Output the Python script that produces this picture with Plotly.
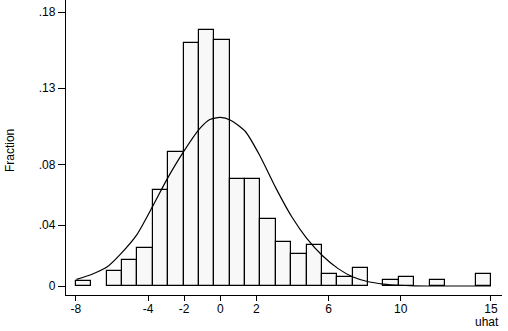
import plotly.graph_objects as go

# Histogram of uhat (fraction per bin), bin width ~0.852
bin_centers = [-7.574, -5.870, -5.019, -4.167, -3.315, -2.463, -1.611, -0.759,
               0.093, 0.944, 1.796, 2.648, 3.500, 4.352, 5.204, 6.056, 6.907,
               7.759, 9.463, 10.315, 12.019, 14.574]
fractions = [0.0036, 0.0096, 0.0171, 0.0248, 0.0629, 0.0878, 0.1600, 0.1680,
             0.1620, 0.0705, 0.0705, 0.0438, 0.0287, 0.0208, 0.0267, 0.0079,
             0.0057, 0.0116, 0.0037, 0.0057, 0.0037, 0.0079]
bin_width = 0.852

# Normal density overlay
curve_x = [-7.97, -7.14, -6.28, -5.57, -4.61, -3.72, -2.98, -2.06, -1.13,
           -0.58, 0.0, 0.57, 1.40, 2.20, 3.09, 3.96, 4.79, 5.68, 6.51, 7.32,
           8.21, 9.04, 9.87, 10.76, 12.0, 15.0]
curve_y = [0.0044, 0.0076, 0.0125, 0.0205, 0.0340, 0.0530, 0.0696, 0.0878,
           0.1036, 0.1095, 0.1108, 0.1090, 0.1014, 0.0855, 0.0642, 0.0455,
           0.0313, 0.0197, 0.0116, 0.0061, 0.0028, 0.0013, 0.0005, 0.0001,
           0.0, 0.0]

x_ticks = [-8, -4, -2, 0, 2, 6, 10, 15]
y_ticks = [0, 0.04, 0.08, 0.13, 0.18]
y_tick_labels = ["0", ".04", ".08", ".13", ".18"]

fig = go.Figure()
fig.add_trace(go.Bar(
    x=bin_centers, y=fractions, width=bin_width,
    marker=dict(color="white",
                line=dict(color="black", width=1.2),
                pattern=dict(shape="|", fgcolor="#e2e2e2", bgcolor="white",
                             size=2, solidity=0.5)),
    showlegend=False, hoverinfo="skip"))
fig.add_trace(go.Scatter(
    x=curve_x, y=curve_y, mode="lines",
    line=dict(color="black", width=1.2, shape="spline", smoothing=0.6),
    showlegend=False, hoverinfo="skip"))

font = dict(family="Liberation Sans, Arial, sans-serif", size=12, color="black")

fig.update_layout(
    width=508, height=331,
    margin=dict(l=66, r=6, t=0, b=36),
    paper_bgcolor="white", plot_bgcolor="white",
    font=font,
    bargap=0,
    xaxis=dict(range=[-8.55, 15.61], tickvals=x_ticks,
               ticktext=[str(v) for v in x_ticks],
               showgrid=False, zeroline=False,
               showline=True, linecolor="black", linewidth=1.3,
               ticks="outside", ticklen=5, tickcolor="black", tickwidth=1,
               ticklabelstandoff=-3, tickfont=font),
    yaxis=dict(range=[-0.0059, 0.188], tickvals=y_ticks, ticktext=y_tick_labels,
               showgrid=False, zeroline=False,
               showline=True, linecolor="black", linewidth=1.3,
               ticks="outside", ticklen=7, tickcolor="black", tickwidth=1,
               tickfont=font),
)

fig.add_annotation(text="Fraction", xref="paper", yref="paper",
                   x=-0.127, y=0.49, showarrow=False, textangle=-90,
                   font=font, xanchor="center", yanchor="middle")
fig.add_annotation(text="uhat", xref="paper", yref="paper",
                   x=0.965, y=-0.093, showarrow=False, font=font,
                   xanchor="center", yanchor="middle")

fig.write_html("out.html")
